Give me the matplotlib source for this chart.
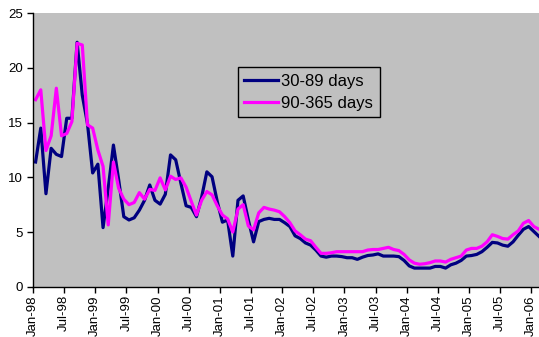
import numpy as np
import matplotlib.pyplot as plt

plt.rcParams['font.family'] = ['Liberation Sans', 'DejaVu Sans']

# monthly values, Jan-98 .. Feb-06
days_30_89 = [11.4, 14.5, 8.5, 12.65, 12.1, 11.9, 15.4, 15.4, 22.35, 17.5,
              14.9, 10.4, 11.2, 5.4, 9.0, 12.95, 9.8, 6.4, 6.1, 6.3,
              7.0, 7.9, 9.3, 7.9, 7.55, 8.45, 12.05, 11.6, 9.45, 7.4,
              7.25, 6.4, 8.2, 10.5, 10.05, 7.8, 5.9, 6.1, 2.8, 7.9,
              8.3, 6.1, 4.1, 5.95, 6.15, 6.25, 6.15, 6.15, 5.85, 5.5,
              4.65, 4.4, 4.0, 3.8, 3.35, 2.8, 2.7, 2.8, 2.8, 2.75,
              2.65, 2.65, 2.5, 2.7, 2.85, 2.9, 3.0, 2.8, 2.8, 2.8,
              2.75, 2.4, 1.9, 1.7, 1.7, 1.7, 1.7, 1.85, 1.85, 1.7,
              2.0, 2.15, 2.4, 2.8, 2.85, 2.95, 3.2, 3.6, 4.05, 4.0,
              3.8, 3.7, 4.1, 4.7, 5.25, 5.5, 5.05, 4.6]

days_90_365 = [17.1, 18.0, 12.45, 13.8, 18.15, 13.8, 14.0, 15.1, 22.25, 22.1,
               14.8, 14.5, 12.5, 11.0, 5.65, 11.4, 9.0, 8.0, 7.5, 7.7,
               8.6, 8.0, 8.9, 8.8, 9.95, 8.85, 10.1, 9.8, 9.95, 9.1,
               7.8, 6.55, 7.9, 8.7, 8.4, 7.4, 6.55, 6.2, 5.0, 7.1,
               7.5, 5.55, 5.2, 6.75, 7.25, 7.1, 7.0, 6.85, 6.4, 5.85,
               5.1, 4.75, 4.35, 4.2, 3.6, 3.05, 3.05, 3.1, 3.2, 3.2,
               3.2, 3.2, 3.2, 3.2, 3.35, 3.4, 3.4, 3.5, 3.6, 3.4,
               3.3, 2.95, 2.45, 2.15, 2.05, 2.1, 2.2, 2.35, 2.35, 2.25,
               2.5, 2.65, 2.8, 3.35, 3.5, 3.5, 3.7, 4.1, 4.75, 4.6,
               4.4, 4.35, 4.75, 5.1, 5.8, 6.05, 5.5, 5.25]

tick_labels = ['Jan-98', 'Jul-98', 'Jan-99', 'Jul-99', 'Jan-00', 'Jul-00',
               'Jan-01', 'Jul-01', 'Jan-02', 'Jul-02', 'Jan-03', 'Jul-03',
               'Jan-04', 'Jul-04', 'Jan-05', 'Jul-05', 'Jan-06']

months = np.arange(len(days_30_89)) + 0.5  # points sit mid-category

fig = plt.figure(figsize=(5.39, 3.37), dpi=100)
ax = fig.add_axes([0.0612, 0.1493, 0.9436, 0.8113])
ax.set_facecolor('#C0C0C0')

ax.plot(months, days_30_89, color='#000080', lw=2.3, label='30-89 days')
ax.plot(months, days_90_365, color='#FF00FF', lw=2.3, label='90-365 days')

ax.set_xlim(0, 98)
ax.set_ylim(0, 25)
ax.set_yticks([0, 5, 10, 15, 20, 25])
ax.set_xticks(np.arange(0, 97, 6))
ax.set_xticklabels(tick_labels, rotation=90)
ax.tick_params(axis='both', direction='out', length=4, width=1, labelsize=9.5,
               colors='black')
ax.tick_params(axis='y', pad=3)
ax.tick_params(axis='x', pad=2)

for s in ['top', 'right']:
    ax.spines[s].set_visible(False)
for s in ['left', 'bottom']:
    ax.spines[s].set_linewidth(1)
    ax.spines[s].set_color('black')

leg = ax.legend(loc='upper left', bbox_to_anchor=(0.4025, 0.8025),
                borderaxespad=0, fontsize=12, fancybox=False,
                facecolor='#C0C0C0', edgecolor='black', framealpha=1,
                handlelength=2.0, handletextpad=0.2, borderpad=0.4,
                labelspacing=0.4)
leg.get_frame().set_linewidth(1)

fig.savefig('out.png', dpi=100)
